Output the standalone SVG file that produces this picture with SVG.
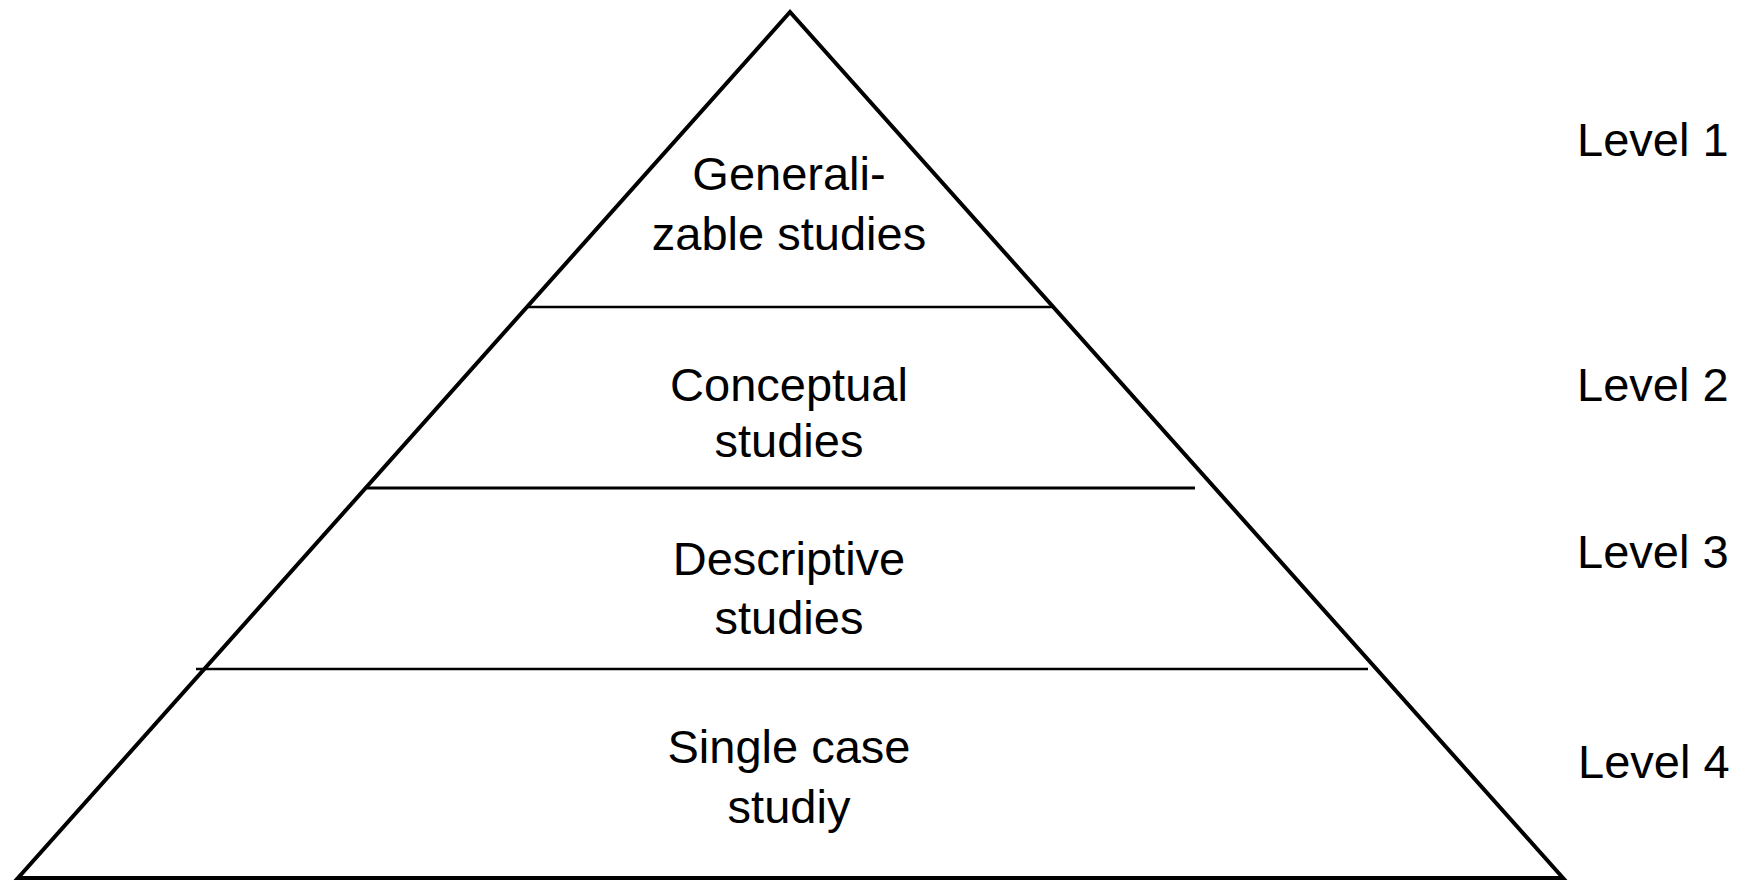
<svg xmlns="http://www.w3.org/2000/svg" width="1740" height="880" viewBox="0 0 1740 880">
<style>
  .lbl { font-family: "Liberation Sans", Arial, sans-serif; font-size: 47px; fill: #000; }
  .mid { text-anchor: middle; }
  .edge { stroke: #000; fill: none; }
</style>
<rect width="1740" height="880" fill="#fff"/>
<g id="pyramid">
  <polygon points="790,12 18,878 1563,878" fill="none" stroke="#000" stroke-width="4" stroke-linejoin="miter"/>
</g>
<g id="connectors">
  <line class="edge" x1="528" y1="307" x2="1052" y2="307" stroke-width="2.5"/>
  <line class="edge" x1="367" y1="488" x2="1195" y2="488" stroke-width="3"/>
  <line class="edge" x1="196" y1="669" x2="1368" y2="669" stroke-width="2.5"/>
</g>
<g id="level1-node">
  <text class="lbl mid" x="789" y="190">Generali-</text>
  <text class="lbl mid" x="789" y="250">zable studies</text>
</g>
<g id="level2-node">
  <text class="lbl mid" x="789" y="401">Conceptual</text>
  <text class="lbl mid" x="789" y="457">studies</text>
</g>
<g id="level3-node">
  <text class="lbl mid" x="789" y="575">Descriptive</text>
  <text class="lbl mid" x="789" y="634">studies</text>
</g>
<g id="level4-node">
  <text class="lbl mid" x="789" y="763">Single case</text>
  <text class="lbl mid" x="789" y="823">studiy</text>
</g>
<g id="level-labels">
  <text class="lbl" x="1577" y="156">Level 1</text>
  <text class="lbl" x="1577" y="401">Level 2</text>
  <text class="lbl" x="1577" y="568">Level 3</text>
  <text class="lbl" x="1578" y="778">Level 4</text>
</g>
</svg>
